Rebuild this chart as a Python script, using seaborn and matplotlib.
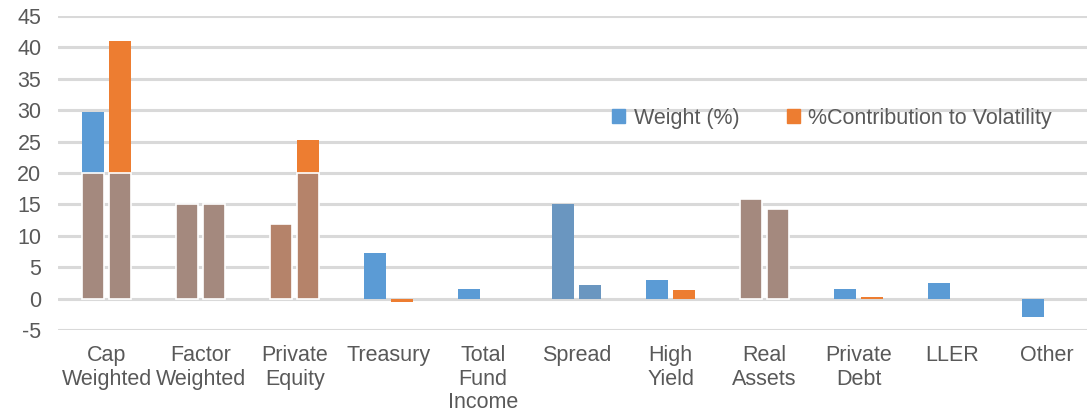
import pandas as pd
import numpy as np
import matplotlib.pyplot as plt
import seaborn as sns
from matplotlib.patches import Patch

categories = ["Cap\nWeighted", "Factor\nWeighted", "Private\nEquity", "Treasury",
              "Total\nFund\nIncome", "Spread", "High\nYield", "Real\nAssets",
              "Private\nDebt", "LLER", "Other"]
weight = [29.7, 15.0, 11.9, 7.2, 1.5, 15.0, 3.0, 15.8, 1.5, 2.5, -3.0]
contribution = [41.0, 15.0, 25.3, -0.5, 0.0, 2.1, 1.4, 14.2, 0.3, 0.0, 0.0]
series = ["Weight (%)", "%Contribution to Volatility"]

# bars that show up brown in the lower part (capped at 20)
brown_cats = ["Cap\nWeighted", "Factor\nWeighted", "Private\nEquity", "Real\nAssets"]
brown_cap = 20

BLUE = "#5b9bd5"
ORANGE = "#ed7d31"
BROWN = "#a4897e"
TAN = "#b5836a"
STEEL = "#6a96c0"
TEXT = "#595959"

df = pd.DataFrame({
    "category": categories * 2,
    "series": [series[0]] * len(categories) + [series[1]] * len(categories),
    "value": weight + contribution,
})
df["overlay"] = np.where(df["category"].isin(brown_cats),
                         np.minimum(df["value"], brown_cap), 0)

sns.set_style("white")
plt.rcParams["font.family"] = ["Liberation Sans", "DejaVu Sans"]
plt.rcParams["axes.unicode_minus"] = False

fig = plt.figure(figsize=(10.87, 4.17), dpi=100)
ax = fig.add_axes([58 / 1087, 87 / 417, 1 - 58 / 1087, 314 / 417])

sns.barplot(data=df, x="category", y="value", hue="series", order=categories,
            hue_order=series, palette=[BLUE, ORANGE], saturation=1,
            width=0.57, gap=0.18, legend=False, ax=ax, zorder=2, linewidth=0)
sns.barplot(data=df, x="category", y="overlay", hue="series", order=categories,
            hue_order=series, palette=[BROWN, BROWN], saturation=1,
            width=0.57, gap=0.18, legend=False, ax=ax, zorder=3,
            edgecolor="white", linewidth=1.2)

# colour quirks of the original
steel_idx = categories.index("Spread")
for cont in ax.containers[:2]:
    cont.patches[steel_idx].set_facecolor(STEEL)
pe_idx = categories.index("Private\nEquity")
for cont in ax.containers[2:]:
    cont.patches[pe_idx].set_facecolor(TAN)
for cont in ax.containers:
    for p in cont.patches:
        if p.get_height() == 0:
            p.set_visible(False)

ax.set_ylim(-5, 45)
ax.set_xlim(-0.52, 10.43)
ax.set_yticks(range(-5, 50, 5))
ax.yaxis.grid(True, color="#d9d9d9", linewidth=2.2)
ax.set_axisbelow(True)
for s in ax.spines.values():
    s.set_visible(False)
ax.set_xlabel("")
ax.set_ylabel("")
ax.tick_params(axis="both", length=0, labelsize=15.5, labelcolor=TEXT)
ax.tick_params(axis="y", pad=12)
ax.tick_params(axis="x", pad=11)
for lbl in ax.get_xticklabels():
    lbl.set_linespacing(1.15)
    lbl.set_verticalalignment("top")

handles = [Patch(color=BLUE), Patch(color=ORANGE)]
ax.legend(handles, series, loc="center left", bbox_to_anchor=(0.52, 0.675),
          ncol=2, frameon=False, fontsize=15.5, handlelength=0.6,
          handleheight=0.6, handletextpad=0.4, columnspacing=2.2,
          labelcolor=TEXT)

plt.savefig("out.png", dpi=100)
